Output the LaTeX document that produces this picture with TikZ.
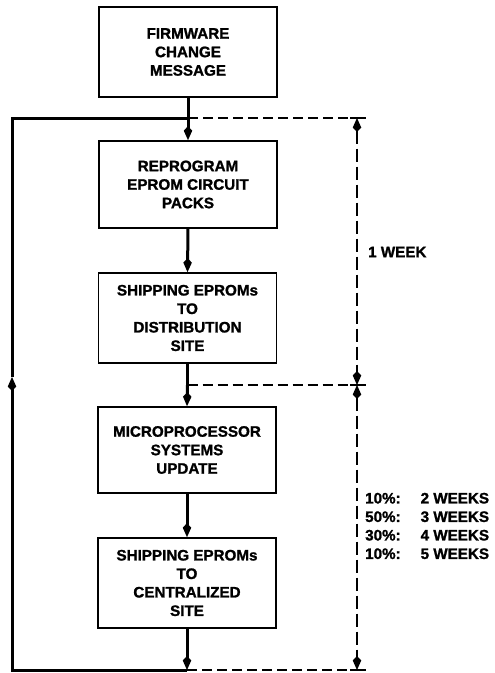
\documentclass[tikz,border=0pt]{standalone}
\usepackage{fontspec}
\setmainfont{Liberation Sans}[BoldFeatures={FakeBold=1.3}]
\usetikzlibrary{arrows.meta}
\begin{document}
\begin{tikzpicture}[x=1pt,y=-1pt,
  txt/.style={font=\bfseries\fontsize{15.2}{18.5}\selectfont},
  box/.style={txt,draw,line width=1.7pt,minimum width=178pt,minimum height=88pt,align=center,inner sep=0pt},
  flow/.style={line width=3pt},
  tip/.style={-{Kite[length=14pt,width=8.5pt,inset=4.5pt]}},
  dtip/.style={{Kite[length=14pt,width=8.5pt,inset=4.5pt]}-{Kite[length=14pt,width=8.5pt,inset=4.5pt]}},
  dimv/.style={line width=1.8pt,dash pattern=on 13pt off 5pt},
  dimh/.style={line width=1.8pt,dash pattern=on 10pt off 5pt},
  tick/.style={line width=1.8pt}
]
\useasboundingbox (0,0) rectangle (495,673);

\node[box,minimum height=90pt] (b1) at (188,52) {FIRMWARE\\CHANGE\\MESSAGE};
\node[box,minimum height=87pt] (b2) at (188,184.5) {REPROGRAM\\EPROM CIRCUIT\\PACKS};
\node[box,minimum height=90pt] (b3) at (187.5,318) {SHIPPING EPROMs\\TO\\DISTRIBUTION\\SITE};
\node[box,minimum height=86pt] (b4) at (187,450) {MICROPROCESSOR\\SYSTEMS\\UPDATE};
\node[box,minimum height=90pt] (b5) at (187,583) {SHIPPING EPROMs\\TO\\CENTRALIZED\\SITE};

\coordinate (top) at (b1.south |- 0,118);
\coordinate (mid) at (b3.south |- 0,385);
\coordinate (bot) at (b5.south |- 0,670);
\coordinate (tl) at (12,118);
\coordinate (bl) at (12,670);
\coordinate (la) at (12,377);
\coordinate (dt) at (357,118);
\coordinate (dm) at (357,385);
\coordinate (db) at (357,670);
\coordinate (dtl) at (350,118);
\coordinate (dtr) at (366,118);
\coordinate (dml) at (350,385);
\coordinate (dmr) at (366,385);
\coordinate (dbl) at (350,670);
\coordinate (dbr) at (366,670);

% main flow
\draw[flow] (b1.south) -- (top);
\draw[flow,tip] (top) -- (b2.north);
\draw[flow,tip] (b2.south) -- (b3.north);
\draw[flow] (b3.south) -- (mid);
\draw[flow,tip] (mid) -- (b4.north);
\draw[flow,tip] (b4.south) -- (b5.north);
\draw[flow,tip] (b5.south) -- (bot);

% feedback loop
\draw[flow,line join=miter,tip] (bot) -- (bl) -- (la);
\draw[flow,line join=miter] (la) -- (tl) -- (top);

% dashed extension lines
\draw[dimh] (top) -- (dtl);
\draw[dimh] (mid) -- (dml);
\draw[dimh] (bot) -- (dbl);
\draw[tick] (dtl) -- (dtr);
\draw[tick] (dml) -- (dmr);
\draw[tick] (dbl) -- (dbr);

% dimension lines
\draw[dimv,dtip] (dt) -- (dm);
\draw[dimv,dtip] (dm) -- (db);

% labels
\node[txt,anchor=west,inner sep=0pt] (w1) at (368,252) {1 WEEK};
\node[txt,anchor=west,inner sep=0pt] (w2) at (365,527.5) {%
  \begin{tabular}{@{}l@{\hspace{20pt}}l@{}}
  10\%: & 2 WEEKS\\
  50\%: & 3 WEEKS\\
  30\%: & 4 WEEKS\\
  10\%: & 5 WEEKS
  \end{tabular}};
\end{tikzpicture}
\end{document}
